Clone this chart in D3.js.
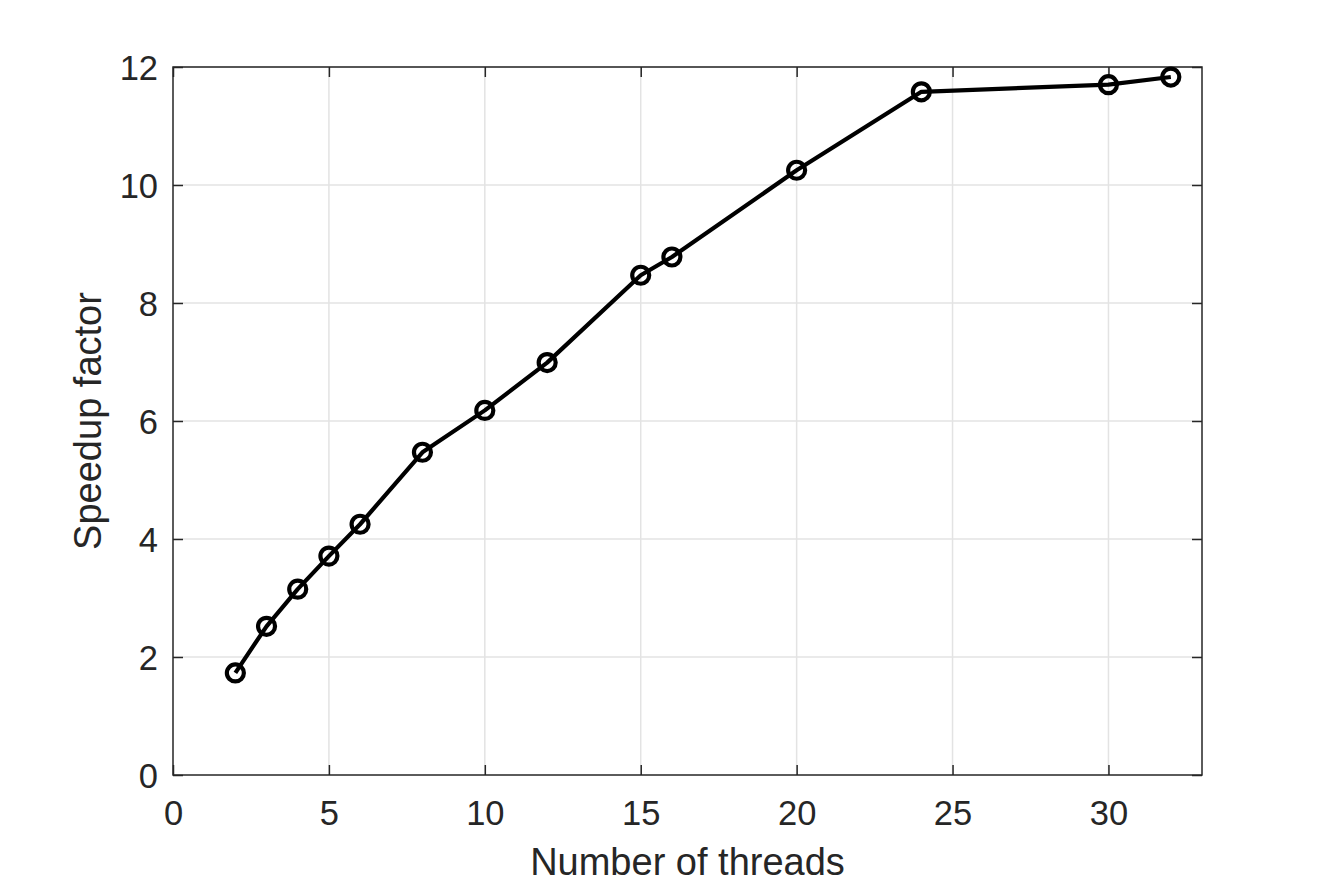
<!DOCTYPE html>
<html><head><meta charset="utf-8">
<script src="https://cdn.jsdelivr.net/npm/d3@7"></script>
<style>body{margin:0;background:#fff}svg{display:block}text{font-family:"Liberation Sans",Arial,sans-serif;fill:#262626}</style>
</head><body>
<svg id="c" width="1329" height="886"></svg>
<script>
const threads = [2,3,4,5,6,8,10,12,15,16,20,24,30,32];
const speedup = [1.73,2.52,3.15,3.71,4.25,5.47,6.18,6.99,8.47,8.78,10.25,11.58,11.70,11.83];
const xTicks = [0,5,10,15,20,25,30];
const yTicks = [0,2,4,6,8,10,12];
const xLabel = "Number of threads";
const yLabel = "Speedup factor";

const m = {l:173, r:1202, t:67, b:775};
const svg = d3.select("#c");
const x = d3.scaleLinear().domain([0,33]).range([m.l,m.r]);
const y = d3.scaleLinear().domain([0,12]).range([m.b,m.t]);
const FONT = '"Liberation Sans",Arial,sans-serif';

// grid
const g = svg.append("g");
g.selectAll("line.gx").data(xTicks.slice(1)).join("line")
  .attr("x1",d=>x(d)).attr("x2",d=>x(d)).attr("y1",m.t).attr("y2",m.b)
  .attr("stroke","#e3e3e3").attr("stroke-width",1.5);
g.selectAll("line.gy").data(yTicks.slice(1)).join("line")
  .attr("y1",d=>y(d)).attr("y2",d=>y(d)).attr("x1",m.l).attr("x2",m.r)
  .attr("stroke","#e3e3e3").attr("stroke-width",1.5);

// axes
const tl = 10;
const ax = svg.append("g").attr("transform",`translate(0,${m.b})`)
  .call(d3.axisBottom(x).tickValues(xTicks).tickSize(-tl).tickPadding(20).tickFormat(d3.format("d")));
const axT = svg.append("g").attr("transform",`translate(0,${m.t})`)
  .call(d3.axisTop(x).tickValues(xTicks).tickSize(-tl).tickFormat(""));
const ay = svg.append("g").attr("transform",`translate(${m.l},0)`)
  .call(d3.axisLeft(y).tickValues(yTicks).tickSize(-tl).tickPadding(15).tickFormat(d3.format("d")));
const ayR = svg.append("g").attr("transform",`translate(${m.r},0)`)
  .call(d3.axisRight(y).tickValues(yTicks).tickSize(-tl).tickFormat(""));
[ax,axT,ay,ayR].forEach(a=>{
  a.attr("font-size",null).attr("font-family",null);
  a.select(".domain").remove();
  a.selectAll(".tick line").attr("stroke","#262626").attr("stroke-width",1.5);
  a.selectAll("text").style("font-size","34.5px").attr("fill","#262626").style("font-family",FONT);
});
ax.selectAll("text").attr("dy","0").attr("y",50);
ay.selectAll("text").attr("dy","0.36em");
svg.append("rect").attr("x",m.l).attr("y",m.t).attr("width",m.r-m.l).attr("height",m.b-m.t)
  .attr("fill","none").attr("stroke","#262626").attr("stroke-width",1.5);

// line
const pts = threads.map((t,i)=>[t,speedup[i]]);
svg.append("path").datum(pts)
  .attr("fill","none").attr("stroke","#000").attr("stroke-width",4.2).attr("stroke-linejoin","round")
  .attr("d",d3.line().x(d=>x(d[0])).y(d=>y(d[1])));
svg.selectAll("circle.p").data(pts).join("circle")
  .attr("cx",d=>x(d[0])).attr("cy",d=>y(d[1])).attr("r",8.5)
  .attr("fill","none").attr("stroke","#000").attr("stroke-width",4.2);

// labels
svg.append("text").attr("x",(m.l+m.r)/2).attr("y",875).attr("text-anchor","middle")
  .style("font-size","38px").text(xLabel);
svg.append("text").attr("transform",`translate(101,${(m.t+m.b)/2}) rotate(-90)`).attr("text-anchor","middle")
  .style("font-size","38px").text(yLabel);
</script>
</body></html>
